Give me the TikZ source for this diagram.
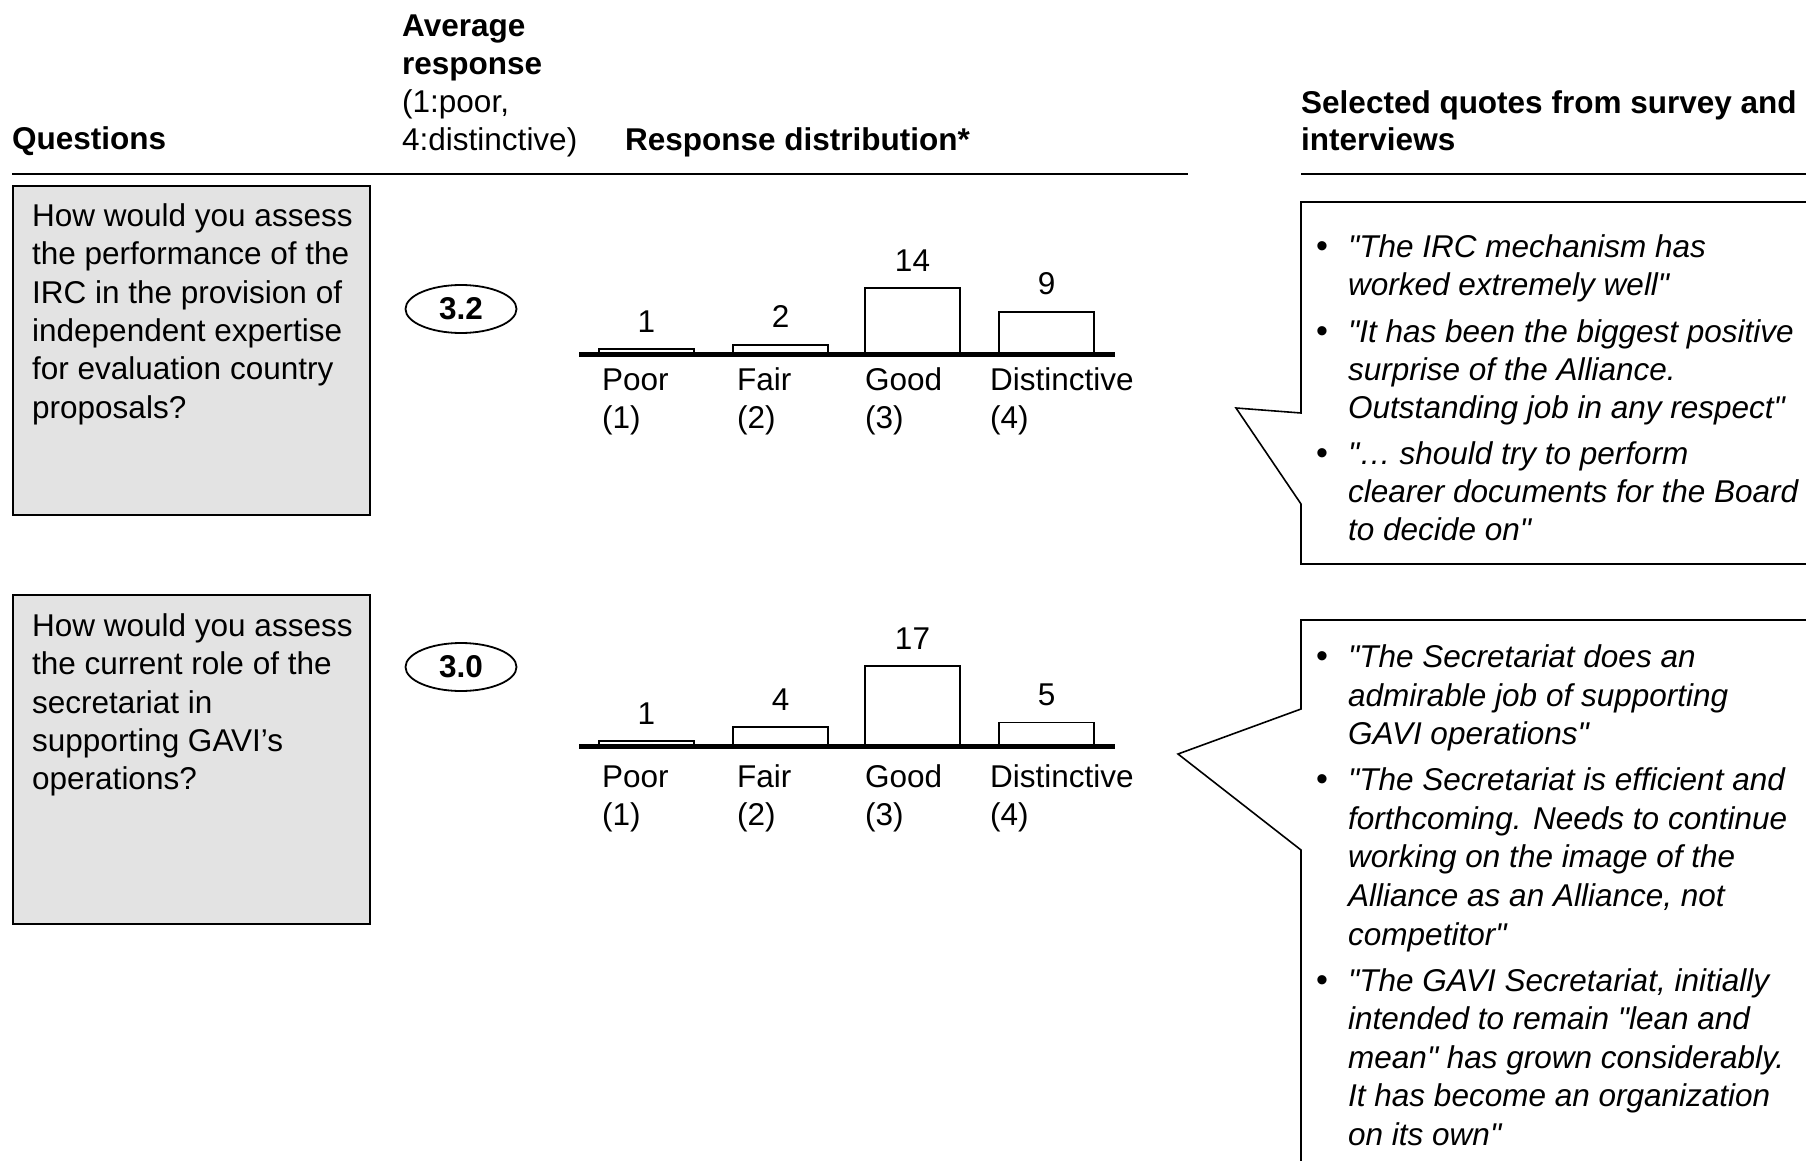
\documentclass[tikz,border=0pt]{standalone}
\usepackage{fontspec}
\setmainfont{Liberation Sans}[Ligatures=TeXOff]
\usetikzlibrary{shapes.geometric}
\definecolor{qfill}{RGB}{227,227,227}

\begin{document}
\begin{tikzpicture}[x=1pt,y=-1pt,
  % multi-line nodes are placed by the baseline of their last line
  txt/.style={inner sep=0pt, anchor=base west, align=left,
              font=\fontsize{31.5}{37.4}\selectfont},
  hdr/.style={txt, font=\fontsize{31.5}{37.4}\selectfont\bfseries},
  qtxt/.style={txt, font=\fontsize{31.5}{38.3}\selectfont},
  lbl/.style={txt, font=\fontsize{31.5}{38}\selectfont},
  quote/.style={txt, font=\fontsize{31.5}{38.3}\selectfont\itshape},
  quoteb/.style={txt, font=\fontsize{31.5}{38.6}\selectfont\itshape},
  dot/.style={inner sep=0pt, anchor=base, font=\fontsize{34}{38.3}\selectfont},
  qbox/.style={draw=black, line width=2pt, fill=qfill, inner sep=0pt,
               anchor=north west, minimum width=357pt, minimum height=329pt},
  avg/.style={ellipse, draw=black, line width=1.8pt, inner sep=0pt,
              minimum width=111pt, minimum height=48pt,
              font=\fontsize{31.5}{37.4}\selectfont\bfseries},
  bar/.style={draw=black, line width=1.8pt, fill=white},
  num/.style={inner sep=0pt, anchor=base, font=\fontsize{31.5}{37.4}\selectfont},
  axisline/.style={line width=5pt},
  rule/.style={line width=2pt},
  callout/.style={draw=black, line width=1.6pt, fill=white, line join=miter}
]
\useasboundingbox (0,0) rectangle (1806,1161);
\fill[white] (0,0) rectangle (1806,1161);
\clip (0,0) rectangle (1806,1161);

% column headings
\node[hdr] (hq) at (12,150) {Questions};
\node[hdr] (ha1) at (402,37) {Average};
\node[hdr] (ha2) at (402,75) {response};
\node[txt] (ha3) at (402,113) {(1:poor,};
\node[txt] (ha4) at (402,150.5) {4:distinctive)};
\node[hdr] (hr) at (625,150.5) {Response distribution*};
\node[hdr] (hs1) at (1301,113.5) {Selected quotes from survey and};
\node[hdr] (hs2) at (1301,151) {interviews};
\draw[rule] (12,174) -- (1188,174);
\draw[rule] (1301,174) -- (1806,174);

% question boxes
\node[qbox] (qb1) at (12,185) {};
\node[qtxt] (qt1) at (32,418) {How would you assess\\the performance of the\\IRC in the provision of\\independent expertise\\for evaluation country\\proposals?};
\node[qbox] (qb2) at (12,594) {};
\node[qtxt] (qt2) at (32,789.7) {How would you assess\\the current role of the\\secretariat in\\supporting GAVI’s\\operations?};

% average responses
\node[avg] (avg1) at (461,309) {3.2};
\node[avg] (avg2) at (461,667) {3.0};

% response distributions
\foreach \ax/\va/\vb/\vc/\vd/\tag/\off in {354/1/2/14/9/a/74, 746/1/4/17/5/b/79}{
  \foreach \bx/\v/\k in {599/\va/1, 733/\vb/2, 865/\vc/3, 999/\vd/4}{
    \draw[bar] (\bx,\ax) rectangle (\bx+95,\ax-\v*4.7);
    \node[num] (n\tag\k) at (\bx+47.5,\ax-\v*4.7-17) {\v};
  }
  \draw[axisline] (579,\ax) -- (1115,\ax);
  \node[lbl] (l\tag1) at (602,\ax+\off) {Poor\\(1)};
  \node[lbl] (l\tag2) at (737,\ax+\off) {Fair\\(2)};
  \node[lbl] (l\tag3) at (865,\ax+\off) {Good\\(3)};
  \node[lbl] (l\tag4) at (990,\ax+\off) {Distinctive\\(4)};
}

% quote callouts
\draw[callout] (1830,202) -- (1301,202) -- (1301,413) -- (1236,408)
  -- (1301,504) -- (1301,564) -- (1830,564);
\node[dot] (b11) at (1322,257) {\textbullet};
\node[quote] (s11) at (1348,295.3) {"The IRC mechanism has\\worked extremely well"};
\node[dot] (b12) at (1322,342) {\textbullet};
\node[quote] (s12) at (1348,418.6) {"It has been the biggest positive\\surprise of the Alliance.\\Outstanding job in any respect"};
\node[dot] (b13) at (1322,464) {\textbullet};
\node[quote] (s13) at (1348,540.6) {"… should try to perform\\clearer documents for the Board\\to decide on"};

\draw[callout] (1830,620) -- (1301,620) -- (1301,709) -- (1178,754)
  -- (1301,850) -- (1301,1180);
\node[dot] (b21) at (1322,667.5) {\textbullet};
\node[quoteb] (s21) at (1348,744.7) {"The Secretariat does an\\admirable job of supporting\\GAVI operations"};
\node[dot] (b22) at (1322,790.7) {\textbullet};
\node[quoteb] (s22) at (1348,945.1) {"The Secretariat is efficient and\\forthcoming. Needs to continue\\working on the image of the\\Alliance as an Alliance, not\\competitor"};
\node[dot] (b23) at (1322,991.1) {\textbullet};
\node[quoteb] (s23) at (1348,1145.5) {"The GAVI Secretariat, initially\\intended to remain "lean and\\mean" has grown considerably.\\It has become an organization\\on its own"};
\end{tikzpicture}
\end{document}
